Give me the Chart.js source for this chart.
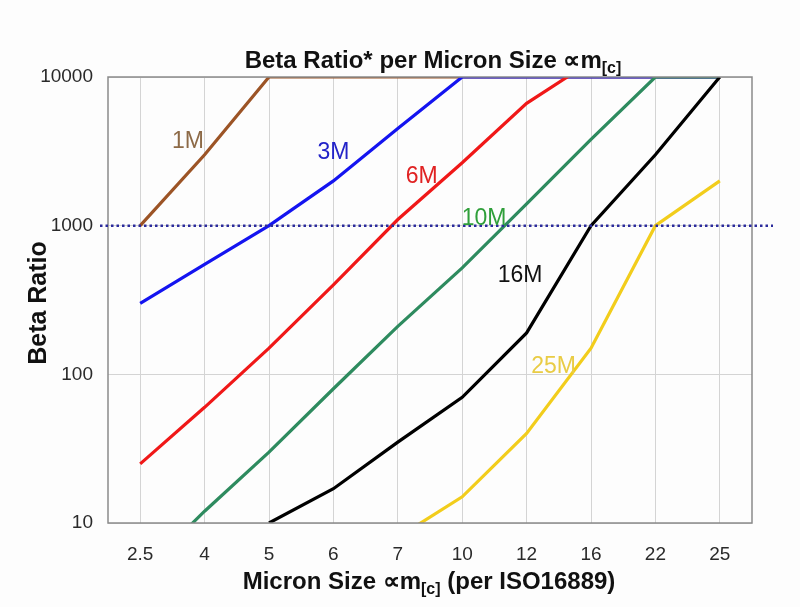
<!DOCTYPE html>
<html>
<head>
<meta charset="utf-8">
<script src="https://cdn.jsdelivr.net/npm/chart.js@4.4.1/dist/chart.umd.min.js"></script>
<style>
  html, body { margin: 0; padding: 0; background: #fdfdfd; }
  #wrap { width: 800px; height: 607px; position: relative; }
</style>
</head>
<body>
<div id="wrap"><canvas id="c" width="800" height="607"></canvas></div>
<script>
// ---- data ----
const categories = ['2.5', '4', '5', '6', '7', '10', '12', '16', '22', '25'];
const yTicks = [10, 100, 1000, 10000];
const beta1M  = [1000, 3000, 10000, 10000, 10000, 10000, 10000, 10000, 10000, 10000];
const beta3M  = [300, 550, 1000, 2000, 4500, 10000, 10000, 10000, 10000, 10000];
const beta6M  = [25, 60, 150, 400, 1100, 2650, 6650, 12700, null, null];
const beta10M = [4.5, 12, 30, 80, 210, 520, 1400, 3800, 10000, 10000];
const beta16M = [null, null, 10, 17, 35, 70, 190, 1000, 3000, 10000];
const beta25M = [null, null, null, null, 8, 15, 40, 150, 1000, 2000];
const referenceBeta = 1000;
// series labels: [text, category position (index), beta value]
const seriesLabels = [
  ['1M', 0.74, 3650],
  ['3M', 3.0, 3100],
  ['6M', 4.37, 2150],
  ['10M', 5.34, 1110],
  ['16M', 5.9, 458],
  ['25M', 6.42, 113]
];

const lineColors = ['#9c5426', '#1414f0', '#f01818', '#2e8b5f', '#000000', '#f2cd1c'];
const labelColors = ['#8d6a47', '#2323c8', '#e02222', '#2f9f3a', '#111111', '#e9cc45'];
const seriesData = [beta1M, beta3M, beta6M, beta10M, beta16M, beta25M];

const FONT = '"Liberation Sans", Arial, sans-serif';

const decorPlugin = {
  id: 'decor',
  afterDatasetsDraw(chart) {
    const ctx = chart.ctx, a = chart.chartArea;
    const xs = chart.scales.x, ys = chart.scales.y;
    ctx.save();
    // frame
    ctx.strokeStyle = '#8a8a8a';
    ctx.lineWidth = 1.5;
    ctx.strokeRect(a.left, a.top, a.right - a.left, a.bottom - a.top);
    // reference dotted line
    const yr = ys.getPixelForValue(referenceBeta);
    ctx.strokeStyle = '#2b2b9c';
    ctx.lineWidth = 2.5;
    ctx.setLineDash([2.5, 3]);
    ctx.beginPath();
    ctx.moveTo(a.left - 8, yr);
    ctx.lineTo(a.right + 21, yr);
    ctx.stroke();
    ctx.setLineDash([]);
    // series labels
    ctx.font = '23px ' + FONT;
    ctx.textAlign = 'center';
    ctx.textBaseline = 'middle';
    seriesLabels.forEach((l, i) => {
      ctx.fillStyle = labelColors[i];
      ctx.fillText(l[0], xs.getPixelForValue(l[1]), ys.getPixelForValue(l[2]));
    });
    ctx.restore();
  },
  afterDraw(chart) {
    const ctx = chart.ctx, a = chart.chartArea;
    ctx.save();
    ctx.fillStyle = '#111111';
    ctx.textBaseline = 'alphabetic';
    function subText(main, sub, cx, baseline, size, subSize, tail) {
      ctx.font = 'bold ' + size + 'px ' + FONT;
      const w1 = ctx.measureText(main).width;
      const w3 = tail ? ctx.measureText(tail).width : 0;
      ctx.font = 'bold ' + subSize + 'px ' + FONT;
      const w2 = ctx.measureText(sub).width;
      let x = cx - (w1 + w2 + w3) / 2;
      ctx.textAlign = 'left';
      ctx.font = 'bold ' + size + 'px ' + FONT;
      ctx.fillText(main, x, baseline);
      x += w1;
      ctx.font = 'bold ' + subSize + 'px ' + FONT;
      ctx.fillText(sub, x, baseline + 5);
      x += w2;
      if (tail) {
        ctx.font = 'bold ' + size + 'px ' + FONT;
        ctx.fillText(tail, x, baseline);
      }
    }
    subText('Beta Ratio* per Micron Size \u221Dm', '[c]', 433, 68, 24, 16, '');
    subText('Micron Size \u221Dm', '[c]', 429, 589, 24, 16, ' (per ISO16889)');
    // y title
    ctx.translate(46, (a.top + a.bottom) / 2 + 3);
    ctx.rotate(-Math.PI / 2);
    ctx.textAlign = 'center';
    ctx.font = 'bold 25px ' + FONT;
    ctx.fillText('Beta Ratio', 0, 0);
    ctx.restore();
  }
};

new Chart(document.getElementById('c'), {
  type: 'line',
  data: {
    labels: categories,
    datasets: seriesData.map((d, i) => ({
      label: ['1M', '3M', '6M', '10M', '16M', '25M'][i],
      data: d,
      borderColor: lineColors[i],
      backgroundColor: lineColors[i],
      borderWidth: 3.2,
      pointRadius: 0,
      tension: 0,
      fill: false,
      spanGaps: false,
      order: 6 - i
    }))
  },
  options: {
    responsive: false,
    animation: false,
    layout: { padding: { left: 0, right: 48, top: 77, bottom: 0 } },
    plugins: { legend: { display: false }, title: { display: false }, tooltip: { enabled: false } },
    scales: {
      x: {
        type: 'category',
        offset: true,
        grid: { display: true, color: '#d4d4d4', lineWidth: 1, drawTicks: false, offset: false },
        border: { display: false },
        ticks: { color: '#2a2a2a', font: { family: FONT, size: 19 }, padding: 20, maxRotation: 0, autoSkip: false },
        afterFit(s) { s.height = 84; }
      },
      y: {
        type: 'logarithmic',
        min: 10,
        max: 10000,
        grid: { display: true, color: '#d4d4d4', lineWidth: 1, drawTicks: false },
        border: { display: false },
        afterBuildTicks(s) { s.ticks = yTicks.map(v => ({ value: v, major: true })); },
        ticks: { color: '#2a2a2a', font: { family: FONT, size: 19 }, padding: 15, callback: v => String(v) },
        afterFit(s) { s.width = 108; }
      }
    }
  },
  plugins: [decorPlugin]
});
</script>
</body>
</html>
